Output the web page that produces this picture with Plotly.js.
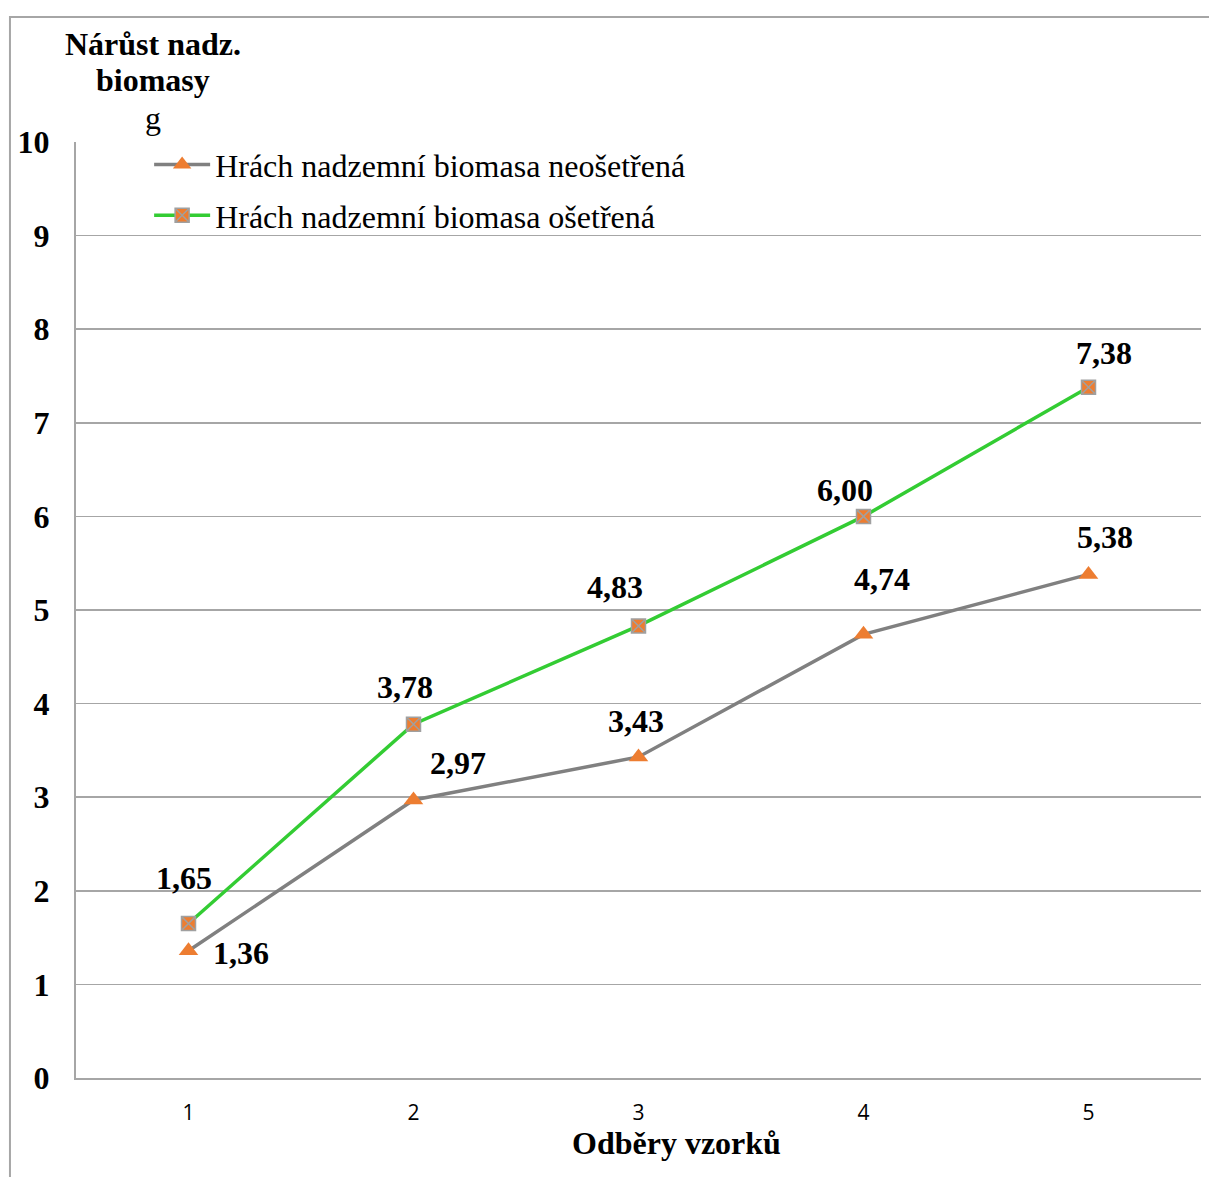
<!DOCTYPE html>
<html>
<head>
<meta charset="utf-8">
<script src="https://cdn.plot.ly/plotly-3.0.1.min.js"></script>
<style>html,body{margin:0;padding:0;background:#fff;}#chart{width:1209px;height:1177px;}</style>
</head>
<body>
<div id="chart"></div>
<script>
// ---- data ----
const categories = ['1', '2', '3', '4', '5'];
const untreatedValues = [1.36, 2.97, 3.43, 4.74, 5.38];
const treatedValues = [1.65, 3.78, 4.83, 6.00, 7.38];
const untreatedName = 'Hrách nadzemní biomasa neošetřená';
const treatedName = 'Hrách nadzemní biomasa ošetřená';
const yTickValues = [0, 1, 2, 3, 4, 5, 6, 7, 8, 9, 10];
const xTitle = 'Odběry vzorků';
const yTitleLines = ['Nárůst nadz.', 'biomasy', 'g'];

// ---- label offsets (style, px) ----
const untreatedOffsets = [[52, -2], [44, 37], [-3, 36], [18, 55], [16, 37]];
const treatedOffsets = [[-5, 46], [-9, 37], [-24, 39], [-19, 26], [15, 34]];

const serif = 'Liberation Serif, Times New Roman, serif';
const orange = '#ED7D31';
const grayLine = '#808080';
const green = '#33CC33';
const gridColor = '#A6A6A6';
const FS = 32;

const fmt = v => v.toFixed(2).replace('.', ',');

const traces = [
  {
    x: categories, y: untreatedValues, name: untreatedName, type: 'scatter', mode: 'lines+markers',
    legendgroup: 'a',
    line: {color: grayLine, width: 3.5},
    marker: {symbol: 'triangle-up', size: 17, color: orange, line: {width: 0}}
  },
  {
    x: categories, y: treatedValues, name: treatedName, type: 'scatter', mode: 'lines+markers',
    legendgroup: 'b',
    line: {color: green, width: 3.5},
    marker: {symbol: 'square-x', size: 14, color: orange, line: {width: 1.5, color: '#A0A0A0'}}
  }
];

const annotations = [];
function addLabels(vals, offs) {
  vals.forEach((v, i) => {
    annotations.push({
      x: i, y: v, xref: 'x', yref: 'y', text: fmt(v), showarrow: false,
      xshift: offs[i][0], yshift: offs[i][1], xanchor: 'center', yanchor: 'middle',
      font: {family: serif, size: FS, color: '#000', weight: 'bold'}
    });
  });
}
addLabels(untreatedValues, untreatedOffsets);
addLabels(treatedValues, treatedOffsets);

// y title lines (paper coords)
const yTitleY = [1.1047, 1.0662, 1.0256];
yTitleLines.forEach((t, i) => {
  annotations.push({
    xref: 'paper', yref: 'paper', x: 0.0684, y: yTitleY[i], xanchor: 'center', yanchor: 'middle',
    showarrow: false, text: i < 2 ? '<b>' + t + '</b>' : t,
    font: {family: serif, size: FS, color: '#000'}
  });
});
annotations.push({
  xref: 'paper', yref: 'paper', x: 0.5342, y: -0.0694, xanchor: 'center', yanchor: 'middle',
  showarrow: false, text: '<b>' + xTitle + '</b>',
  font: {family: serif, size: FS, color: '#000'}
});

const layout = {
  width: 1209, height: 1177,
  margin: {l: 76, r: 8, t: 142, b: 99},
  paper_bgcolor: '#fff', plot_bgcolor: '#fff',
  showlegend: true,
  legend: {
    x: 0.065, y: 1.005, xanchor: 'left', yanchor: 'top',
    bgcolor: 'rgba(255,255,255,0)', borderwidth: 0,
    font: {family: serif, size: FS, color: '#000'},
    traceorder: 'grouped', tracegroupgap: 6, itemwidth: 56
  },
  xaxis: {
    type: 'category', range: [-0.5, 4.5],
    showgrid: false, zeroline: false, showline: true, linecolor: gridColor, linewidth: 2,
    ticks: '', ticklabelstandoff: 15,
    tickfont: {family: 'Open Sans, sans-serif', size: 21, color: '#000'}
  },
  yaxis: {
    range: [0, 10], tickvals: yTickValues, ticktext: yTickValues.map(String),
    showgrid: true, gridcolor: gridColor, gridwidth: 1.5,
    zeroline: false, showline: true, linecolor: gridColor, linewidth: 2,
    ticks: '', ticklabelstandoff: 18,
    tickfont: {family: serif, size: FS, color: '#000', weight: 'bold'}
  },
  annotations: annotations,
  shapes: [{
    type: 'rect', xref: 'paper', yref: 'paper',
    x0: -0.0587, x1: 1.05, y0: -0.2, y1: 1.1335,
    line: {color: gridColor, width: 2}, fillcolor: 'rgba(0,0,0,0)', layer: 'below'
  }]
};

Plotly.newPlot('chart', traces, layout, {displayModeBar: false, staticPlot: true});
</script>
</body>
</html>
